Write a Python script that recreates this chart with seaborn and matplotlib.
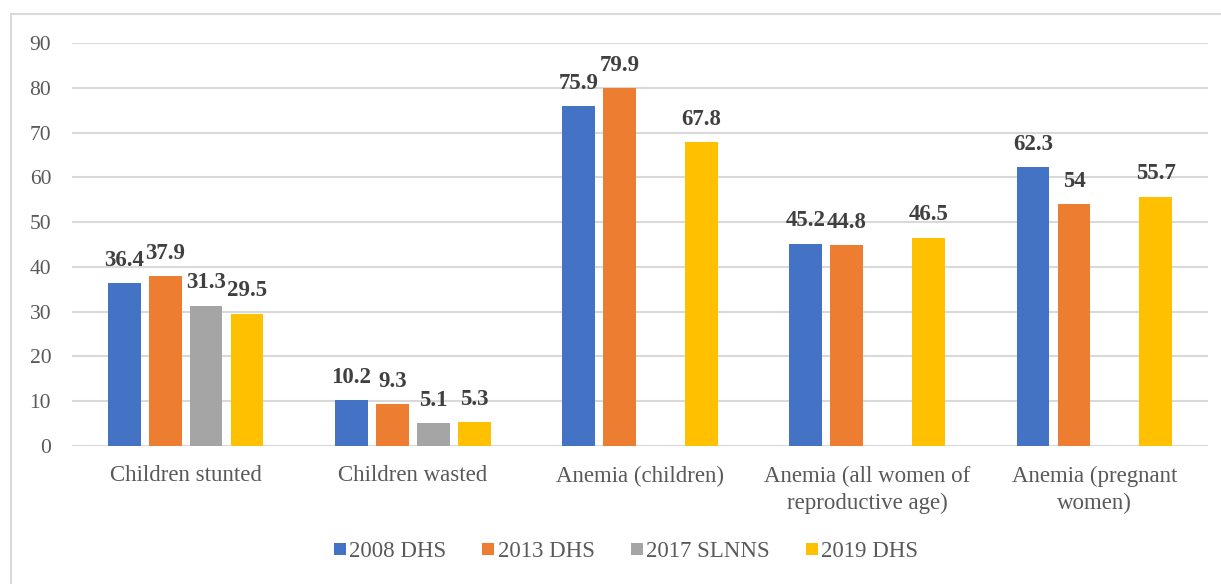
import numpy as np
import pandas as pd
import matplotlib
matplotlib.use("Agg")
import matplotlib.pyplot as plt
from matplotlib.patches import Rectangle
import seaborn as sns

categories = [
    "Children stunted",
    "Children wasted",
    "Anemia (children)",
    "Anemia (all women of\nreproductive age)",
    "Anemia (pregnant\nwomen)",
]
series = ["2008 DHS", "2013 DHS", "2017 SLNNS", "2019 DHS"]
dhs_2008 = [36.4, 10.2, 75.9, 45.2, 62.3]
dhs_2013 = [37.9, 9.3, 79.9, 44.8, 54.0]
slnns_2017 = [31.3, 5.1, np.nan, np.nan, np.nan]
dhs_2019 = [29.5, 5.3, 67.8, 46.5, 55.7]
colors = ["#4472C4", "#ED7D31", "#A5A5A5", "#FFC000"]
yticks = [0, 10, 20, 30, 40, 50, 60, 70, 80, 90]

rows = []
for name, vals in zip(series, [dhs_2008, dhs_2013, slnns_2017, dhs_2019]):
    for cat, v in zip(categories, vals):
        rows.append({"category": cat, "survey": name, "value": v})
df = pd.DataFrame(rows)

sns.set_theme(style="white")
plt.rcParams["font.family"] = ["Liberation Serif", "DejaVu Serif"]

W, H = 1221, 584
fig = plt.figure(figsize=(W / 100, H / 100), dpi=100)
ax = fig.add_axes([72 / W, (H - 446) / H, (1208 - 72) / W, (446 - 43) / H])

sns.barplot(
    data=df, x="category", y="value", hue="survey",
    order=categories, hue_order=series, palette=colors,
    width=0.72, gap=0.2, errorbar=None, ax=ax, legend=False,
    saturation=1, linewidth=0,
)

for cont in ax.containers:
    labels = ["" if np.isnan(b.get_height()) else f"{b.get_height():g}" for b in cont]
    ax.bar_label(cont, labels=labels, padding=9, fontsize=16.5,
                 fontweight="bold", color="#404040")

ax.set_xlim(-0.5, 4.5)
ax.set_ylim(0, 90)
ax.set_yticks(yticks)
ax.yaxis.grid(True, color="#D9D9D9", linewidth=1.5)
ax.set_axisbelow(True)
for s in ax.spines.values():
    s.set_visible(False)
ax.tick_params(axis="y", length=0, pad=15, labelsize=15.5, labelcolor="#595959")
ax.tick_params(axis="x", length=0, pad=14, labelsize=16.5, labelcolor="#595959")
ax.set_xlabel("")
ax.set_ylabel("")
for lab in ax.get_xticklabels():
    lab.set_linespacing(1.4)

handles = [plt.Line2D([], [], marker="s", linestyle="", markersize=8,
                      markerfacecolor=c, markeredgewidth=0) for c in colors]
fig.legend(handles, series, loc="center", bbox_to_anchor=(625 / W, 1 - 551 / H),
           ncol=4, frameon=False, fontsize=16.5, handletextpad=0.05,
           columnspacing=1.5, handlelength=0.7, labelcolor="#595959")

fig.patches.append(Rectangle((11 / W, -0.1), 1.2, (H - 14) / H + 0.1,
                             transform=fig.transFigure, fill=False,
                             edgecolor="#D9D9D9", linewidth=1.5))

fig.savefig("out.png", dpi=100)
